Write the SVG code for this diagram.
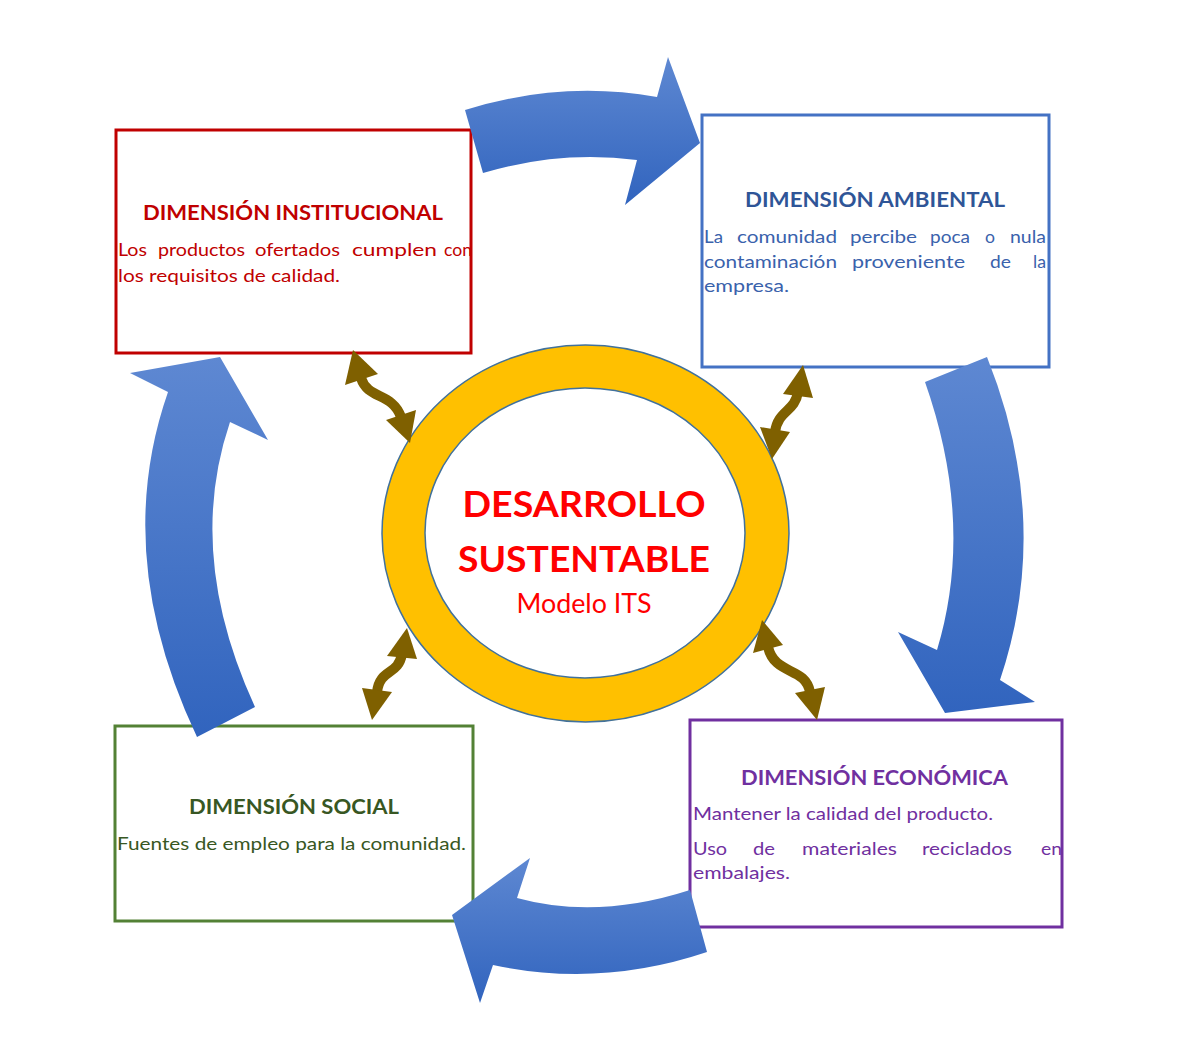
<svg xmlns="http://www.w3.org/2000/svg" width="1181" height="1042" viewBox="0 0 1181 1042">
<defs>
<linearGradient id="blueV" x1="0" y1="0" x2="0" y2="1">
<stop offset="0" stop-color="#5E88D2"/>
<stop offset="1" stop-color="#3164BE"/>
</linearGradient>
<style>
.box{fill:#fff;stroke-width:3}
.ttl{font-family:Lato,"Open Sans","Liberation Sans",sans-serif;font-weight:bold;font-size:20px}
.body{font-family:Lato,"Open Sans","Liberation Sans",sans-serif;font-size:18px}
.big{font-family:Lato,"Open Sans","Liberation Sans",sans-serif;font-weight:bold;fill:#FF0000;text-anchor:middle}
.blue{fill:url(#blueV)}
.shaft{fill:none;stroke:#7F6000;stroke-width:10}
.head{fill:#7F6000}
</style>
</defs>
<rect width="1181" height="1042" fill="#fff"/>

<g id="node-institucional">
<rect class="box" x="116" y="130" width="355" height="223" stroke="#C00000"/>
<text class="ttl" x="143" y="220" fill="#C00000" textLength="300" lengthAdjust="spacingAndGlyphs">DIMENSIÓN INSTITUCIONAL</text>
<text class="body" y="256" fill="#C00000"><tspan x="118" textLength="29" lengthAdjust="spacingAndGlyphs">Los</tspan><tspan x="158" textLength="87" lengthAdjust="spacingAndGlyphs">productos</tspan><tspan x="255" textLength="85" lengthAdjust="spacingAndGlyphs">ofertados</tspan><tspan x="352" textLength="85" lengthAdjust="spacingAndGlyphs">cumplen</tspan><tspan x="444" textLength="28" lengthAdjust="spacingAndGlyphs">con</tspan></text>
<text class="body" x="118" y="282" fill="#C00000" textLength="222" lengthAdjust="spacingAndGlyphs">los requisitos de calidad.</text>
</g>

<g id="node-ambiental">
<rect class="box" x="702" y="115" width="347" height="252" stroke="#4472C4"/>
<text class="ttl" x="745" y="207" fill="#2F5597" textLength="260" lengthAdjust="spacingAndGlyphs">DIMENSIÓN AMBIENTAL</text>
<text class="body" y="243" fill="#3A62AC"><tspan x="704" textLength="19" lengthAdjust="spacingAndGlyphs">La</tspan><tspan x="737" textLength="100" lengthAdjust="spacingAndGlyphs">comunidad</tspan><tspan x="850" textLength="67" lengthAdjust="spacingAndGlyphs">percibe</tspan><tspan x="930" textLength="40" lengthAdjust="spacingAndGlyphs">poca</tspan><tspan x="985" textLength="10" lengthAdjust="spacingAndGlyphs">o</tspan><tspan x="1010" textLength="36" lengthAdjust="spacingAndGlyphs">nula</tspan></text>
<text class="body" y="268" fill="#3A62AC"><tspan x="704" textLength="133" lengthAdjust="spacingAndGlyphs">contaminación</tspan><tspan x="852" textLength="113" lengthAdjust="spacingAndGlyphs">proveniente</tspan><tspan x="990" textLength="21" lengthAdjust="spacingAndGlyphs">de</tspan><tspan x="1033" textLength="13" lengthAdjust="spacingAndGlyphs">la</tspan></text>
<text class="body" x="704" y="292" fill="#3A62AC" textLength="85" lengthAdjust="spacingAndGlyphs">empresa.</text>
</g>

<g id="node-economica">
<rect class="box" x="690" y="720" width="372" height="207" stroke="#7030A0"/>
<text class="ttl" x="741" y="785" fill="#7030A0" textLength="267" lengthAdjust="spacingAndGlyphs">DIMENSIÓN ECONÓMICA</text>
<text class="body" x="693" y="820" fill="#7030A0" textLength="300" lengthAdjust="spacingAndGlyphs">Mantener la calidad del producto.</text>
<text class="body" y="855" fill="#7030A0"><tspan x="693" textLength="34" lengthAdjust="spacingAndGlyphs">Uso</tspan><tspan x="753" textLength="22" lengthAdjust="spacingAndGlyphs">de</tspan><tspan x="802" textLength="95" lengthAdjust="spacingAndGlyphs">materiales</tspan><tspan x="922" textLength="90" lengthAdjust="spacingAndGlyphs">reciclados</tspan><tspan x="1041" textLength="21" lengthAdjust="spacingAndGlyphs">en</tspan></text>
<text class="body" x="693" y="879" fill="#7030A0" textLength="97" lengthAdjust="spacingAndGlyphs">embalajes.</text>
</g>

<g id="node-social">
<rect class="box" x="115" y="726" width="358" height="195" stroke="#538135"/>
<text class="ttl" x="189" y="814" fill="#385723" textLength="210" lengthAdjust="spacingAndGlyphs">DIMENSIÓN SOCIAL</text>
<text class="body" x="117" y="850" fill="#385723" textLength="349" lengthAdjust="spacingAndGlyphs">Fuentes de empleo para la comunidad.</text>
</g>

<g id="node-centro">
<ellipse cx="585.5" cy="533.5" rx="203.5" ry="188.5" fill="#FFC000" stroke="#41719C" stroke-width="1.5"/>
<ellipse cx="585" cy="533" rx="160" ry="145" fill="#fff" stroke="#41719C" stroke-width="1.5"/>
<text class="big" x="584" y="517" font-size="36" textLength="243" lengthAdjust="spacingAndGlyphs">DESARROLLO</text>
<text class="big" x="584" y="572" font-size="36" textLength="252" lengthAdjust="spacingAndGlyphs">SUSTENTABLE</text>
<text x="584" y="613" font-family="Lato,'Open Sans','Liberation Sans',sans-serif" font-size="26" fill="#FF0000" text-anchor="middle" textLength="135" lengthAdjust="spacingAndGlyphs">Modelo ITS</text>
</g>

<g id="connectors">
<path class="blue" d="M465,110 Q561,80 657,97 L668,57 L700,143 L625,205 L637,160 Q560,150 483,173 Z"/>
<path class="blue" d="M925,382 L987,357 Q1053,522 1000,680 L1035,702 L945,713 L898,632 L937,650 Q975,524 925,382 Z"/>
<path class="blue" d="M690,890 L707,952 Q600,988 493,965 L480,1003 L452,915 L530,858 L517,898 Q597,920 690,890 Z"/>
<path class="blue" d="M220,357 L268,440 L230,422 Q185,555 255,707 L197,737 Q111,555 168,392 L130,373 Z"/>

<path class="shaft" d="M361,378 C368,400 392,392 401,417"/>
<polygon class="head" points="353,350 345,385 378,374"/>
<polygon class="head" points="410,443 386,420 416,410"/>

<path class="shaft" d="M798,392 C795,412 778,410 775,432"/>
<polygon class="head" points="803,365 783,394 813,398"/>
<polygon class="head" points="772,459 760,427 790,432"/>

<path class="shaft" d="M402,654 C398,676 380,668 377,692"/>
<polygon class="head" points="407,628 387,656 417,659"/>
<polygon class="head" points="372,720 362,688 392,692"/>

<path class="shaft" d="M768,647 C775,676 805,666 810,692"/>
<polygon class="head" points="762,620 753,653 783,645"/>
<polygon class="head" points="817,720 795,693 825,687"/>
</g>
</svg>
